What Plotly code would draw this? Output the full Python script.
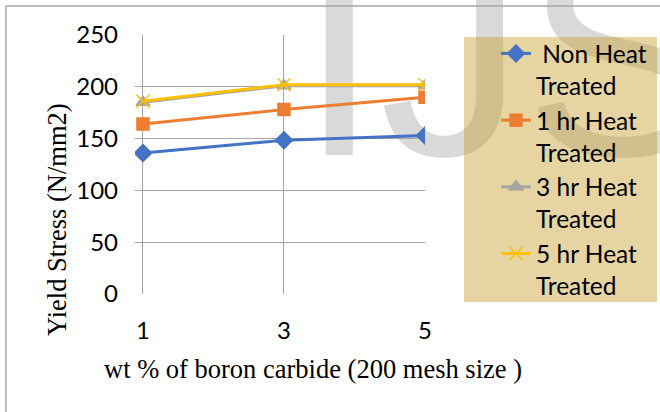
import plotly.graph_objects as go

wt_pct = [1, 3, 5]
non_heat = [136, 148.5, 153]
hr1 = [164, 178, 190]
hr3 = [185, 201, 201]
hr5 = [186, 202, 202]
names = [" Non Heat<br>Treated", "1 hr Heat<br>Treated", "3 hr Heat<br>Treated", "5 hr Heat<br>Treated"]
y_ticks = [0, 50, 100, 150, 200, 250]
x_ticks = [1, 3, 5]

# layout pixel helpers (plot area 135..425 x 35..294)
L, R, T, B = 135, 425, 35, 294
W, H = R - L, B - T
def px(x):
    return (x - L) / W
def py(y):
    return (B - y) / H

fig = go.Figure()
styles = [
    dict(color="#4472C4", symbol="diamond", size=13),
    dict(color="#ED7D31", symbol="square", size=12),
    dict(color="#A5A5A5", symbol="triangle-up", size=12),
    dict(color="#FFC000", symbol="x-thin", size=13),
]
for vals, name, st in zip([non_heat, hr1, hr3, hr5], names, styles):
    fig.add_trace(go.Scatter(
        x=wt_pct, y=vals, name=name, mode="lines+markers",
        line=dict(color=st["color"], width=3),
        marker=dict(symbol=st["symbol"], size=st["size"], color=st["color"],
                    line=dict(color=st["color"], width=1.5)),
    ))

fig.update_layout(
    width=660, height=412,
    margin=dict(l=L, r=660 - R, t=T, b=412 - B, autoexpand=False),
    paper_bgcolor="white", plot_bgcolor="rgba(0,0,0,0)",
    font=dict(family="Lato", size=24, color="black"),
    showlegend=True,
    legend=dict(x=px(496), y=py(31), xanchor="left", yanchor="top", maxheight=400,
                bgcolor="rgba(0,0,0,0)", font=dict(family="Lato", size=24.5, color="black"),
                valign="top", tracegroupgap=0),
    xaxis=dict(range=[0.887, 5], tickvals=x_ticks, ticktext=[str(v) for v in x_ticks],
               showgrid=True, gridcolor="#a6a6a6", gridwidth=1.3, zeroline=False,
               showline=False, ticks="", ticklabelstandoff=20,
               tickfont=dict(family="Lato", size=24, color="black")),
    yaxis=dict(range=[0, 250], tickvals=y_ticks, showgrid=True, gridcolor="#a6a6a6",
               gridwidth=1.3, zeroline=False, showline=False, ticks="",
               ticklabelstandoff=16, tickfont=dict(family="Lato", size=24, color="black")),
    shapes=[
        # watermark
        dict(type="rect", xref="paper", yref="paper", x0=px(296), x1=px(660), y0=py(189), y1=py(0),
             line=dict(width=0), fillcolor="rgba(0,0,0,0)", layer="below",
             label=dict(text="IJS", textposition="bottom left", padding=0,
                        font=dict(family="Liberation Sans", size=290, color="#d9d9d9"))),
        # legend background
        dict(type="rect", xref="paper", yref="paper", x0=px(464), x1=px(657), y0=py(302), y1=py(37),
             line=dict(width=0), fillcolor="rgba(200,160,50,0.45)", layer="below"),
        # chart border
        dict(type="rect", xref="paper", yref="paper", x0=px(6), x1=px(700), y0=py(450), y1=py(6),
             line=dict(width=1.5, color="#a6a6a6"), fillcolor="rgba(0,0,0,0)", layer="above"),
    ],
    annotations=[
        dict(text="Yield Stress (N/mm2)", xref="paper", yref="paper", x=px(57), y=py(220),
             xanchor="center", yanchor="middle", textangle=-90, showarrow=False,
             font=dict(family="Liberation Serif", size=26.5, color="black")),
        dict(text="wt % of boron carbide (200 mesh size )", xref="paper", yref="paper",
             x=px(313), y=py(369), xanchor="center", yanchor="middle", showarrow=False,
             font=dict(family="Liberation Serif", size=26.5, color="black")),
    ],
)

fig.write_html("out.html")
